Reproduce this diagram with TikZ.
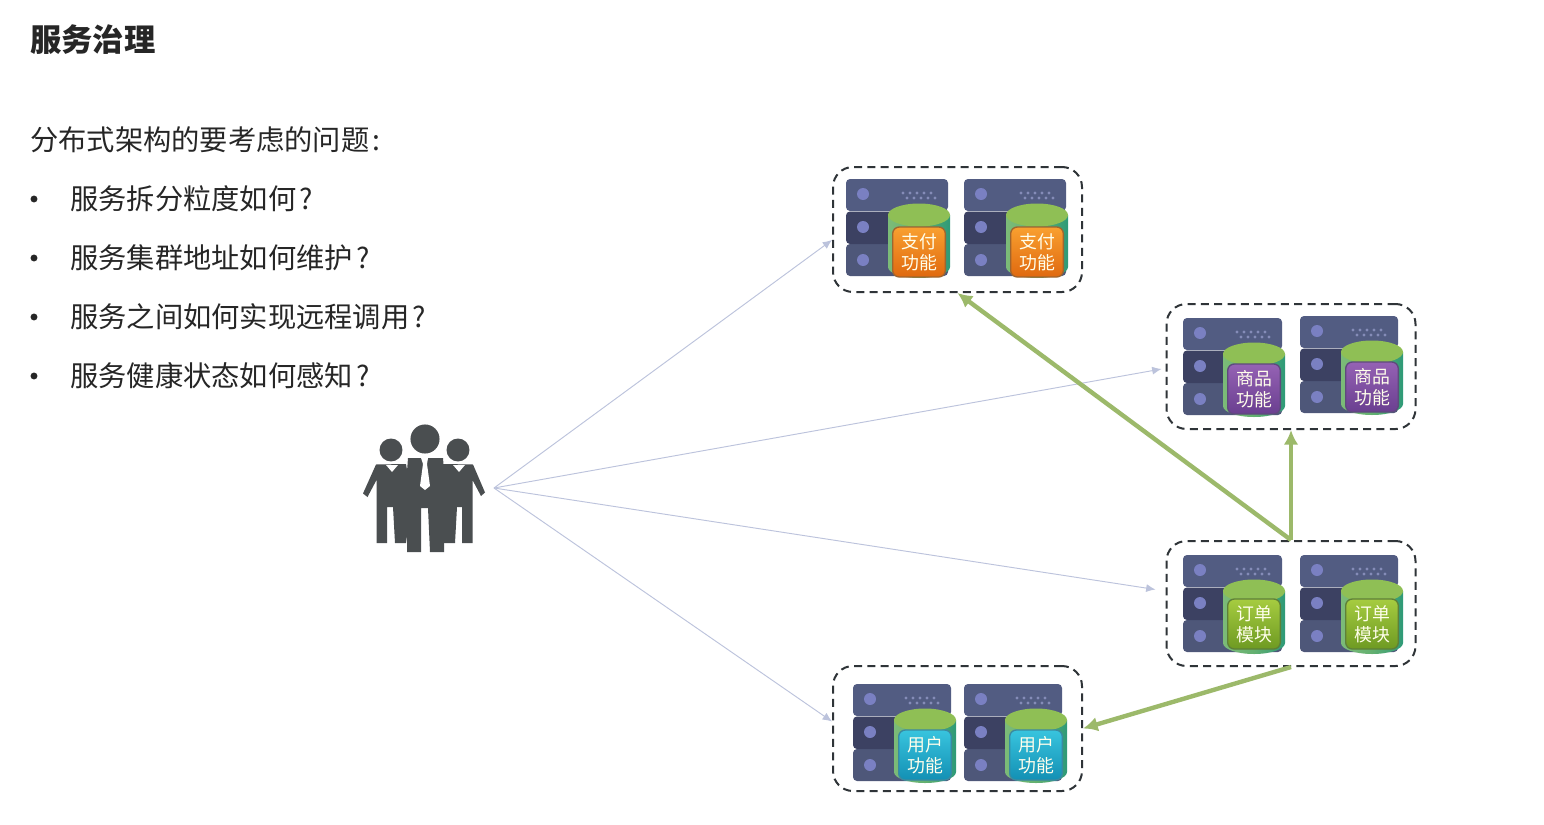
\documentclass[tikz,border=0pt]{standalone}
\usepackage{fontspec}
\setmainfont{Noto Sans CJK SC}
\usetikzlibrary{arrows.meta,calc}
\definecolor{txt}{HTML}{262626}
\definecolor{ink}{HTML}{4A4E50}
\definecolor{thin}{HTML}{BCC3DC}
\definecolor{grn}{HTML}{9CB96A}
\definecolor{dashc}{HTML}{2F3438}
\definecolor{srvA}{HTML}{525C82}
\definecolor{srvB}{HTML}{3C4162}
\definecolor{srvC}{HTML}{4E5779}
\definecolor{srvD}{HTML}{7A80C2}
\definecolor{srvE}{HTML}{858CB8}
\definecolor{cylA}{HTML}{7CBB78}
\definecolor{cylB}{HTML}{2E9A78}
\definecolor{cylC}{HTML}{63B070}
\definecolor{cylD}{HTML}{8FBF55}
\definecolor{oraT}{HTML}{F9A030}
\definecolor{oraB}{HTML}{E0690F}
\definecolor{oraE}{HTML}{A0652E}
\definecolor{purT}{HTML}{9562B4}
\definecolor{purB}{HTML}{6A3F90}
\definecolor{purE}{HTML}{5E4A7C}
\definecolor{limT}{HTML}{A6CC40}
\definecolor{limB}{HTML}{6E9A22}
\definecolor{limE}{HTML}{5E8038}
\definecolor{cyaT}{HTML}{38C4DE}
\definecolor{cyaB}{HTML}{1390B4}
\definecolor{cyaE}{HTML}{3A8AA0}
\newcommand{\qm}{\kern2.5pt?}
\tikzset{
  px/.style={x=0.75pt,y=-0.75pt},
  bodytext/.style={anchor=west,inner sep=0pt,text=txt,font=\fontsize{21.2}{25}\selectfont},
  titletext/.style={anchor=west,inner sep=0pt,text=txt,font=\fontsize{23.5}{28}\selectfont\bfseries},
  groupbox/.style={draw=dashc,line width=1.5pt,dash pattern=on 6pt off 4pt,rounded corners=15pt,
    minimum width=186.75pt,minimum height=93.75pt,inner sep=0pt},
  lookarrow/.style={draw=thin,line width=0.7pt,-{Latex[length=7pt,width=6pt]}},
  callarrow/.style={draw=grn,line width=3.3pt,-{Latex[length=11pt,width=11pt]}},
  lab/.style={rounded corners=5pt,minimum width=39.5pt,minimum height=37.5pt,inner sep=0pt,align=center,
    text=white!92!yellow,line width=1pt,font=\fontsize{13.4}{15.75}\selectfont},
}
% \srvunit{name}{x}{y}{w}{cylinder x}{label y}{colour key}{line1}{line2}
\newcommand{\srvunit}[9]{%
  \begin{scope}[shift={(#2,#3)}]
    \fill[rounded corners=3pt,fill=srvA] (0,0) rectangle (#4,32);
    \fill[rounded corners=3pt,fill=srvC] (0,65) rectangle (#4,97);
    \fill[rounded corners=3pt,fill=srvB] (0,32.5) rectangle (#4,65);
    \foreach \yy in {15,48,81}{\fill[fill=srvD] (17,\yy) circle (4.5pt);}
    \foreach \ii in {0,1,2,3,4}{
      \fill[fill=srvE] ({#4-45+\ii*7},14) circle (1.25pt);
      \fill[fill=srvE] ({#4-41+\ii*7},19) circle (1.25pt);
    }
    \begin{scope}[shift={(#5,0)}]
      \path[left color=cylA,right color=cylB,middle color=cylC] (0,36) -- (0,88) arc[start angle=180,end angle=360,x radius=31,y radius=-11] -- (62,36) -- cycle;
      \fill[fill=cylD] (31,36) ellipse[x radius=31,y radius=11.5];
      \node[lab,draw=#7E,top color=#7T,bottom color=#7B] (#1) at (31,#6) {#8\\#9};
    \end{scope}
  \end{scope}%
}
\begin{document}
\begin{tikzpicture}[px]
  \useasboundingbox (0,0) rectangle (1544,824);
  \fill[white] (0,0) rectangle (1544,824);

  % texts
  \node[titletext] (title) at (30,40) {服务治理};
  \node[bodytext] (intro) at (30,140) {分布式架构的要考虑的问题\kern2pt:};
  \foreach \nm/\yy/\tx in {q1/199/服务拆分粒度如何\qm,q2/258/服务集群地址如何维护\qm,q3/317/服务之间如何实现远程调用\qm,q4/376/服务健康状态如何感知\qm}{
    \fill[txt] (34,\yy) circle (2.6pt);
    \node[bodytext] (\nm) at (70,\yy) {\tx};
  }

  % people
  \fill[ink] (391,450) circle (8.6pt);
  \fill[ink] (458,450) circle (8.6pt);
  \fill[ink] (425,439) circle (10.9pt);
  \fill[ink] (376,464.5) -- (406,464) -- (412,500) -- (406,543) -- (395,543) -- (393,507) -- (387,507) -- (387,543) -- (376.5,543) -- (376.5,480) -- (367.5,497) -- (363,493.5) -- cycle;
  \fill[ink] (473,464.5) -- (443,464) -- (437,500) -- (443,543) -- (455,543) -- (457,507) -- (462,507) -- (462,543) -- (472.5,543) -- (472.5,480) -- (481,496) -- (485,492.5) -- cycle;
  \fill[ink] (408,458) -- (443,458) -- (446,498) -- (444,502) -- (444,552) -- (430,552) -- (428,508) -- (421,508) -- (421,552) -- (407,552) -- (407,502) -- (405,498) -- cycle;
  \fill[white] (386,465) -- (392,472) -- (398,465) -- cycle;
  \fill[white] (453,465) -- (459,472) -- (465,465) -- cycle;
  \fill[white] (421,458) -- (428,458) -- (427,464) -- (430,486) -- (425,490) -- (420,486) -- (423,464) -- cycle;
  \coordinate (hub) at (494,488);

  % servers
  \srvunit{pa}{846}{179}{102}{42}{73}{ora}{支付}{功能}
  \srvunit{pb}{964}{179}{102}{42}{73}{ora}{支付}{功能}
  \srvunit{ga}{1183}{318}{99}{40}{71}{pur}{商品}{功能}
  \srvunit{gb}{1300}{316}{98}{41}{71}{pur}{商品}{功能}
  \srvunit{oa}{1183}{555}{99}{40}{69}{lim}{订单}{模块}
  \srvunit{ob}{1300}{555}{98}{41}{69}{lim}{订单}{模块}
  \srvunit{ua}{853}{684}{98}{41}{71}{cya}{用户}{功能}
  \srvunit{ub}{964}{684}{98}{41}{71}{cya}{用户}{功能}

  % groups
  \node[groupbox] (pay) at (957.5,229.5) {};
  \node[groupbox] (goods) at (1291,366.5) {};
  \node[groupbox] (order) at (1291,603.5) {};
  \node[groupbox] (user) at (957.5,728.5) {};

  % connectors
  \coordinate (payin) at ($(pay.west)+(0,10.5)$);
  \coordinate (goodsin) at ($(goods.west)+(-4,2.5)$);
  \coordinate (orderin) at ($(order.west)+(-10,-14)$);
  \coordinate (userin) at ($(user.west)+(0,-7)$);
  \draw[lookarrow] (hub) -- (payin);
  \draw[lookarrow] (hub) -- (goodsin);
  \draw[lookarrow] (hub) -- (orderin);
  \draw[lookarrow] (hub) -- (userin);
  \draw[callarrow] (order.north) -- (pay.south);
  \draw[callarrow] (order.north) -- (goods.south);
  \draw[callarrow] (order.south) -- (user.east);
\end{tikzpicture}
\end{document}
